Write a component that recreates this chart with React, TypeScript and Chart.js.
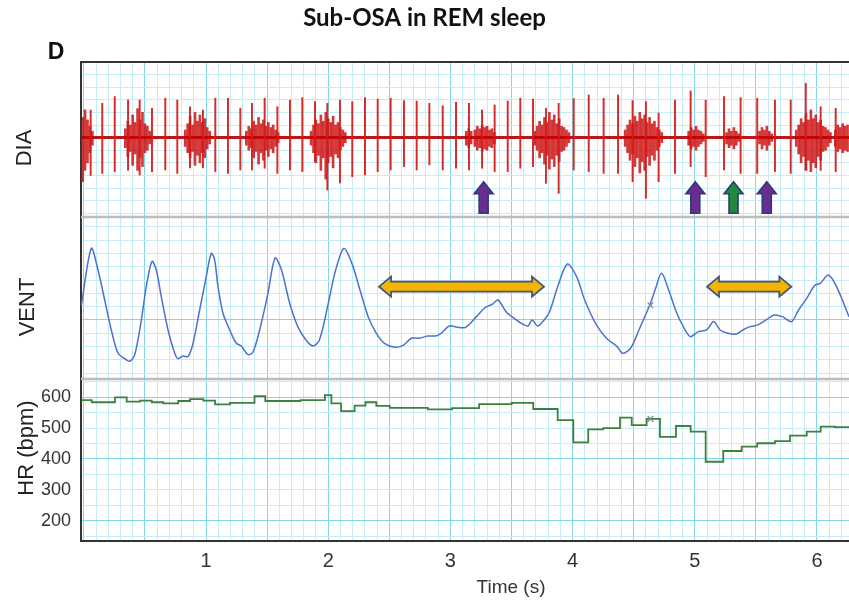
import React, { useEffect, useRef } from 'react';
import { Chart, registerables } from 'chart.js';

Chart.register(...registerables);

// ---------------- data ----------------
const timeTickLabels = [1, 2, 3, 4, 5, 6];
const hrTickLabels = [200, 300, 400, 500, 600];

// Heart rate (stepped), each value holds from its time to the next time
const hrStepTimes = [-0.02, 0.065, 0.255, 0.351, 0.46, 0.556, 0.65, 0.773, 0.869, 0.978,
  1.074, 1.196, 1.397, 1.485, 1.773, 1.973, 2.026, 2.105, 2.216, 2.305,
  2.394, 2.504, 2.815, 3.014, 3.235, 3.501, 3.678, 3.878, 4.006, 4.128,
  4.251, 4.388, 4.484, 4.606, 4.715, 4.846, 4.966, 5.089, 5.233, 5.384,
  5.511, 5.656, 5.779, 5.916, 6.03, 6.147, 6.262];
const hrValues = [591, 584, 600, 586, 589, 584, 580, 588, 594, 589,
  577, 582, 604, 588, 591, 607, 580, 555, 573, 584,
  572, 566, 561, 565, 578, 582, 562, 526, 454, 496,
  500, 534, 510, 530, 472, 507, 489, 391, 426, 440,
  451, 458, 476, 489, 505, 503, 503];

// Ventilation trace (arbitrary units)
const ventTimes = [-0.02, 0.061, 0.116, 0.171, 0.225, 0.28, 0.335, 0.376, 0.417, 0.471,
  0.511, 0.558, 0.593, 0.634, 0.689, 0.744, 0.771, 0.812, 0.853, 0.894,
  0.948, 1.002, 1.043, 1.071, 1.098, 1.139, 1.194, 1.248, 1.289, 1.344,
  1.385, 1.439, 1.507, 1.565, 1.618, 1.685, 1.751, 1.818, 1.876, 1.928,
  1.995, 2.061, 2.128, 2.194, 2.26, 2.327, 2.394, 2.46, 2.547, 2.612,
  2.682, 2.748, 2.814, 2.881, 2.923, 2.992, 3.058, 3.124, 3.213, 3.28,
  3.346, 3.39, 3.457, 3.523, 3.59, 3.634, 3.669, 3.714, 3.767, 3.811,
  3.878, 3.957, 4.033, 4.099, 4.188, 4.277, 4.365, 4.409, 4.476, 4.543,
  4.631, 4.675, 4.728, 4.786, 4.853, 4.906, 4.963, 5.029, 5.097, 5.154,
  5.207, 5.273, 5.34, 5.393, 5.451, 5.517, 5.583, 5.65, 5.716, 5.792,
  5.849, 5.916, 5.982, 6.027, 6.093, 6.16, 6.262];
const ventValues = [1.1, 5.37, 3.75, 1.5, -0.75, -2.5, -2.9, -3.1, -2.6, 0,
  2.5, 4.4, 3.75, 1.75, -0.75, -2.5, -2.9, -2.7, -2.75, -1.75,
  0.75, 3.25, 5.0, 4.5, 2.5, 0.5, -0.75, -1.75, -1.95, -2.6,
  -2.4, -0.75, 2.0, 4.65, 3.75, 1.25, -0.5, -1.5, -1.95, -1.5,
  1.0, 3.75, 5.37, 4.25, 2.25, 0.25, -1.0, -1.75, -2.05, -1.9,
  -1.37, -1.37, -1.2, -1.2, -1.0, -0.45, -0.55, -0.55, 0.25, 0.9,
  1.2, 1.5, 0.6, 0.12, -0.3, -0.45, 0, -0.45, 0, 0.6,
  2.5, 4.2, 3.25, 1.5, -0.25, -1.37, -2.0, -2.5, -2.1, -0.75,
  1.1, 2.25, 3.5, 2.25, 0.5, -0.5, -1.25, -0.87, -0.75, -0.12,
  -0.75, -1.0, -1.05, -0.75, -0.5, -0.37, 0, 0.37, 0.25, -0.12,
  0.75, 1.62, 2.6, 2.75, 3.37, 2.5, 0.25];

// Diaphragm EMG: cardiac spikes
const spikeTimes = [0.056, 0.151, 0.253, 0.362, 0.457, 0.558, 0.667, 0.765, 0.869, 0.975,
  1.076, 1.18, 1.281, 1.376, 1.48, 1.584, 1.687, 1.788, 1.892, 1.993,
  2.096, 2.197, 2.301, 2.405, 2.511, 2.62, 2.724, 2.828, 2.937, 3.046,
  3.152, 3.259, 3.362, 3.469, 3.572, 3.676, 3.782, 3.886, 4.009, 4.132,
  4.254, 4.372, 4.491, 4.6, 4.704, 4.838, 4.966, 5.089, 5.239, 5.375,
  5.511, 5.656, 5.785, 5.908, 6.03, 6.153];
const spikeTops = [2.19, 2.72, 3.25, 2.98, 2.98, 2.32, 3.12, 2.98, 2.45, 2.19,
  3.12, 3.12, 2.32, 2.72, 3.12, 2.45, 2.98, 3.17, 2.85, 2.72,
  2.98, 2.85, 3.17, 3.05, 3.12, 2.93, 2.9, 2.72, 2.53, 2.8,
  2.72, 2.19, 2.59, 2.9, 3.12, 3.06, 2.32, 2.72, 3.1, 3.38,
  3.12, 3.38, 2.93, 2.85, 1.95, 2.98, 3.7, 2.98, 3.25, 3.17,
  3.12, 2.98, 2.98, 4.31, 2.45, 2.32];
const spikeBottoms = [-3.0, -2.84, -2.7, -2.6, -2.97, -2.7, -2.57, -2.84, -2.4, -2.4,
  -2.7, -2.84, -2.57, -2.57, -2.43, -2.84, -2.57, -2.7, -1.9, -4.16,
  -3.6, -3.1, -2.97, -2.7, -2.57, -2.3, -2.57, -2.17, -2.57, -2.43,
  -2.57, -2.43, -2.7, -2.7, -2.43, -2.3, -3.63, -4.42, -2.57, -2.7,
  -2.84, -2.84, -3.5, -4.82, -3.5, -2.84, -2.3, -3.1, -2.57, -2.84,
  -2.84, -2.7, -2.84, -2.57, -2.6, -2.7];

// Diaphragm EMG: burst envelope bins (time, high, low)
const burstTimes = [
  -0.01, 0.01, 0.03, 0.05, 0.07,
  0.34, 0.36, 0.38, 0.40, 0.42, 0.44, 0.46, 0.48, 0.50, 0.52, 0.54,
  0.83, 0.85, 0.87, 0.89, 0.91, 0.93, 0.95, 0.97, 0.99, 1.01, 1.03,
  1.33, 1.35, 1.37, 1.39, 1.41, 1.43, 1.45, 1.47, 1.49, 1.51, 1.53, 1.55, 1.57, 1.59,
  1.86, 1.88, 1.90, 1.92, 1.94, 1.96, 1.98, 2.00, 2.02, 2.04, 2.06, 2.08, 2.10, 2.12, 2.14,
  3.13, 3.15, 3.17,
  3.20, 3.22, 3.24, 3.26, 3.28, 3.30, 3.32, 3.34, 3.36,
  3.69, 3.71, 3.73, 3.75, 3.77, 3.79, 3.81, 3.83, 3.85, 3.87, 3.89, 3.91, 3.93, 3.95, 3.97,
  4.43, 4.45, 4.47, 4.49, 4.51, 4.53, 4.55, 4.57, 4.59, 4.61, 4.63, 4.65, 4.67, 4.69, 4.71, 4.73,
  4.95, 4.97, 4.99, 5.01, 5.03, 5.05, 5.07,
  5.26, 5.28, 5.30, 5.32, 5.34, 5.36,
  5.53, 5.55, 5.57, 5.59, 5.61, 5.63,
  5.83, 5.85, 5.87, 5.89, 5.91, 5.93, 5.95, 5.97, 5.99, 6.01, 6.03, 6.05, 6.07, 6.09, 6.11,
  6.15, 6.17, 6.19, 6.21, 6.23, 6.25];
const burstHigh = [
  1.6, 2.2, 1.4, 0.9, 0.5,
  0.7, 1.3, 1.0, 1.8, 1.2, 2.3, 1.4, 2.0, 1.1, 0.9, 0.5,
  0.6, 1.1, 1.7, 1.0, 2.0, 1.3, 1.8, 1.2, 1.5, 0.8, 0.5,
  0.5, 0.9, 0.7, 1.3, 1.0, 1.6, 1.1, 1.4, 0.9, 1.2, 0.8, 1.0, 0.6, 0.4,
  0.5, 1.0, 1.4, 1.1, 1.8, 1.3, 2.0, 1.5, 1.2, 1.7, 1.0, 1.2, 0.8, 0.6, 0.4,
  0.5, 0.7, 0.5,
  0.6, 0.9, 0.7, 1.0, 0.8, 0.9, 0.6, 0.7, 0.4,
  0.5, 0.9, 1.3, 1.0, 1.6, 1.2, 2.0, 1.4, 1.8, 1.1, 1.5, 0.9, 0.8, 0.6, 0.4,
  0.6, 1.0, 1.4, 1.1, 1.7, 1.3, 2.0, 1.5, 1.8, 1.2, 1.6, 1.1, 1.3, 0.8, 0.6, 0.4,
  0.5, 0.8, 0.6, 0.9, 0.6, 0.5, 0.3,
  0.4, 0.7, 0.5, 0.8, 0.5, 0.3,
  0.5, 0.8, 0.6, 0.9, 0.5, 0.3,
  0.6, 1.0, 1.5, 1.2, 1.9, 1.4, 2.2, 1.5, 1.8, 1.2, 1.4, 0.9, 0.8, 0.6, 0.4,
  0.6, 1.0, 0.8, 1.1, 0.9, 1.0];
const burstLow = [
  -3.5, -2.6, -2.0, -1.2, -0.6,
  -0.8, -1.5, -1.1, -2.2, -1.3, -2.6, -1.6, -2.3, -1.2, -1.0, -0.5,
  -0.7, -1.2, -1.6, -1.1, -2.2, -1.4, -2.0, -1.2, -1.6, -0.9, -0.5,
  -0.6, -1.0, -0.8, -1.6, -1.1, -2.1, -1.2, -1.8, -1.0, -1.5, -0.9, -1.2, -0.7, -0.4,
  -0.6, -1.2, -2.0, -1.4, -2.6, -1.6, -3.3, -2.0, -1.5, -2.4, -1.3, -1.6, -1.0, -0.7, -0.4,
  -0.6, -0.8, -0.5,
  -0.7, -1.0, -0.8, -1.1, -0.9, -1.0, -0.7, -0.8, -0.5,
  -0.6, -1.0, -1.6, -1.2, -2.1, -1.4, -2.5, -1.7, -2.3, -1.4, -1.9, -1.1, -1.0, -0.7, -0.4,
  -0.7, -1.2, -1.8, -1.3, -2.3, -1.6, -2.8, -1.9, -2.6, -1.5, -2.2, -1.4, -1.8, -1.0, -0.7, -0.4,
  -0.6, -0.9, -0.7, -1.0, -0.7, -0.5, -0.3,
  -0.5, -0.8, -0.6, -0.9, -0.6, -0.3,
  -0.5, -0.9, -0.6, -1.0, -0.6, -0.3,
  -0.7, -1.3, -2.0, -1.5, -2.6, -1.8, -2.7, -2.0, -2.4, -1.5, -1.8, -1.1, -1.0, -0.7, -0.4,
  -0.7, -1.1, -0.9, -1.2, -1.0, -1.1];

const diaBaselineTimes = [-0.023, 6.262];
const diaBaselineValues = [0, 0];

// Markers (×) on VENT and HR
const markerTime = [4.637];
const ventMarkerValue = [1.1];
const hrMarkerValue = [530];

// Annotation arrows
const ventArrowStarts = [2.416, 5.1];
const ventArrowEnds = [3.766, 5.79];
const ventArrowLevels = [2.5, 2.5];
const diaArrowTimes = [3.272, 5.004, 5.317, 5.589];
const diaArrowKinds = ['purple', 'purple', 'green', 'purple'];
const diaArrowTip = -3.5;
const diaArrowBase = -6.0;

// ---------------- styling ----------------
const SANS = '"Liberation Sans", Arial, sans-serif';
const GRID_MINOR = '#c6ecf5';
const GRID_MAJOR = '#84d5e7';
const FRAME = '#333333';
const SEPARATOR = '#bdbdbd';

const X_MIN = -0.023;
const X_MAX = 6.262;

const range = (a: number, b: number, step: number) => {
  const out: number[] = [];
  const n = Math.round((b - a) / step);
  for (let i = 0; i <= n; i++) out.push(Math.round((a + i * step) * 1000) / 1000);
  return out;
};

const drawDoubleArrow = (ctx: CanvasRenderingContext2D, x1: number, x2: number, y: number) => {
  const hl = 12, hh = 10, sh = 5;
  ctx.beginPath();
  ctx.moveTo(x1, y);
  ctx.lineTo(x1 + hl, y - hh);
  ctx.lineTo(x1 + hl, y - sh);
  ctx.lineTo(x2 - hl, y - sh);
  ctx.lineTo(x2 - hl, y - hh);
  ctx.lineTo(x2, y);
  ctx.lineTo(x2 - hl, y + hh);
  ctx.lineTo(x2 - hl, y + sh);
  ctx.lineTo(x1 + hl, y + sh);
  ctx.lineTo(x1 + hl, y + hh);
  ctx.closePath();
  ctx.fillStyle = '#f4b400';
  ctx.fill();
  ctx.lineWidth = 1.8;
  ctx.strokeStyle = '#44557a';
  ctx.stroke();
};

const drawUpArrow = (ctx: CanvasRenderingContext2D, x: number, yTip: number, yBase: number, fill: string) => {
  const hw = 9.5, sw = 4.5, hh = 12;
  ctx.beginPath();
  ctx.moveTo(x, yTip);
  ctx.lineTo(x + hw, yTip + hh);
  ctx.lineTo(x + sw, yTip + hh);
  ctx.lineTo(x + sw, yBase);
  ctx.lineTo(x - sw, yBase);
  ctx.lineTo(x - sw, yTip + hh);
  ctx.lineTo(x - hw, yTip + hh);
  ctx.closePath();
  ctx.fillStyle = fill;
  ctx.fill();
  ctx.lineWidth = 1.6;
  ctx.strokeStyle = '#2c3b7c';
  ctx.stroke();
};

const overlayPlugin = {
  id: 'overlay',
  beforeDatasetsDraw(chart: any) {
    const { ctx, chartArea, scales } = chart;
    ctx.save();
    ctx.strokeStyle = SEPARATOR;
    ctx.lineWidth = 2.5;
    for (const id of ['yDIA', 'yVENT']) {
      const y = scales[id].bottom;
      ctx.beginPath();
      ctx.moveTo(chartArea.left, y);
      ctx.lineTo(chartArea.right, y);
      ctx.stroke();
    }
    ctx.strokeStyle = FRAME;
    ctx.lineWidth = 2;
    ctx.beginPath();
    ctx.moveTo(chartArea.left - 1, chartArea.top);
    ctx.lineTo(chartArea.right, chartArea.top);
    ctx.stroke();
    ctx.restore();
  },
  afterDatasetsDraw(chart: any) {
    const { ctx, scales } = chart;
    const xs = scales.x, yV = scales.yVENT, yD = scales.yDIA;
    ctx.save();
    for (let i = 0; i < ventArrowStarts.length; i++) {
      drawDoubleArrow(ctx, xs.getPixelForValue(ventArrowStarts[i]), xs.getPixelForValue(ventArrowEnds[i]),
        yV.getPixelForValue(ventArrowLevels[i]));
    }
    for (let i = 0; i < diaArrowTimes.length; i++) {
      drawUpArrow(ctx, xs.getPixelForValue(diaArrowTimes[i]), yD.getPixelForValue(diaArrowTip),
        yD.getPixelForValue(diaArrowBase), diaArrowKinds[i] === 'green' ? '#1d8a3c' : '#6a2c90');
    }
    ctx.restore();
  },
  afterDraw(chart: any) {
    const { ctx } = chart;
    ctx.save();
    ctx.fillStyle = '#111';
    ctx.textAlign = 'center';
    ctx.textBaseline = 'middle';
    ctx.font = 'bold 23px ' + SANS;
    ctx.fillText('D', 56, 53);
    ctx.fillStyle = '#222';
    ctx.font = '22px ' + SANS;
    const labels: [string, number, number][] = [['DIA', 25, 148], ['VENT', 28, 307], ['HR (bpm)', 27, 448]];
    for (const [t, x, y] of labels) {
      ctx.save();
      ctx.translate(x, y);
      ctx.rotate(-Math.PI / 2);
      ctx.fillText(t, 0, 0);
      ctx.restore();
    }
    ctx.fillStyle = '#333';
    ctx.font = '19px ' + SANS;
    ctx.fillText('Time (s)', 511, 588);
    ctx.restore();
  },
};

export default function App() {
  const ref = useRef<HTMLCanvasElement | null>(null);

  useEffect(() => {
    if (!ref.current) return;
    const xy = (xs: number[], ys: number[]) => xs.map((x, i) => ({ x, y: ys[i] }));
    const chart = new Chart(ref.current, {
      type: 'line',
      data: {
        datasets: [
          {
            label: 'VENT marker', yAxisID: 'yVENT', data: xy(markerTime, ventMarkerValue) as any,
            showLine: false, pointStyle: 'crossRot', pointRadius: 4, pointHoverRadius: 4, pointBorderColor: '#8a8a8a',
            pointBorderWidth: 1.3, pointBackgroundColor: 'transparent',
          },
          {
            label: 'HR marker', yAxisID: 'yHR', data: xy(markerTime, hrMarkerValue) as any,
            showLine: false, pointStyle: 'crossRot', pointRadius: 4, pointHoverRadius: 4, pointBorderColor: '#8a8a8a',
            pointBorderWidth: 1.3, pointBackgroundColor: 'transparent',
          },
          {
            label: 'HR', yAxisID: 'yHR', data: xy(hrStepTimes, hrValues) as any, stepped: true,
            borderColor: '#3f7f3f', borderWidth: 1.8, pointRadius: 0, pointHoverRadius: 0,
          },
          {
            label: 'VENT', yAxisID: 'yVENT', data: xy(ventTimes, ventValues) as any, tension: 0.3,
            borderColor: '#4d72cd', borderWidth: 1.5, pointRadius: 0, pointHoverRadius: 0,
          },
          {
            type: 'bar', label: 'DIA spikes', yAxisID: 'yDIA',
            data: spikeTimes.map((t, i) => ({ x: t, y: [spikeBottoms[i], spikeTops[i]] })) as any,
            backgroundColor: 'rgba(214,24,24,0.92)', barThickness: 1.3, grouped: false, borderWidth: 0,
          } as any,
          {
            type: 'bar', label: 'DIA bursts', yAxisID: 'yDIA',
            data: burstTimes.map((t, i) => ({ x: t, y: [burstLow[i], burstHigh[i]] })) as any,
            backgroundColor: 'rgba(200,0,0,0.78)', barThickness: 2, grouped: false, borderWidth: 0,
          } as any,
          {
            label: 'DIA baseline', yAxisID: 'yDIA', data: xy(diaBaselineTimes, diaBaselineValues) as any,
            borderColor: 'rgba(180,0,0,0.9)', borderWidth: 3, pointRadius: 0, pointHoverRadius: 0,
          },
        ],
      },
      options: {
        responsive: false,
        animation: false,
        devicePixelRatio: 1,
        layout: { padding: 0, autoPadding: false },
        plugins: {
          legend: { display: false },
          tooltip: { enabled: false },
          title: {
            display: true,
            text: 'Sub-OSA in REM sleep',
            color: '#111',
            font: { family: 'Lato', size: 24, weight: 'bold', lineHeight: 1.2 },
            padding: { top: 4, bottom: 29.2 },
          },
        },
        scales: {
          x: {
            type: 'linear',
            min: X_MIN,
            max: X_MAX,
            offset: false,
            afterBuildTicks: (s: any) => { s.ticks = range(0, 6.2, 0.1).map((v) => ({ value: v })); },
            afterFit: (s: any) => { s.height = 63; s.paddingLeft = 0; s.paddingRight = 0; },
            ticks: {
              autoSkip: false, maxRotation: 0, minRotation: 0, padding: 8, color: '#333',
              font: { family: 'Liberation Sans', size: 20 },
              callback: (v: any) => (timeTickLabels.includes(Number(v)) ? String(v) : ''),
            },
            grid: {
              offset: false, drawTicks: false, lineWidth: 1,
              color: (c: any) => {
                const v = c.tick ? c.tick.value : 0;
                return Math.abs(v * 2 - Math.round(v * 2)) < 1e-6 ? GRID_MAJOR : GRID_MINOR;
              },
            },
            border: { display: true, color: FRAME, width: 2 },
          },
          yHR: {
            type: 'linear', position: 'left', stack: 'panels', stackWeight: 162,
            min: 134.2, max: 659.3,
            afterBuildTicks: (s: any) => { s.ticks = range(150, 650, 50).map((v) => ({ value: v })); },
            afterFit: (s: any) => { s.width = 81; },
            ticks: {
              autoSkip: false, padding: 10, color: '#333',
              font: { family: 'Liberation Sans', size: 18 },
              callback: (v: any) => (hrTickLabels.includes(Number(v)) ? String(v) : ''),
            },
            grid: {
              drawTicks: false, lineWidth: 1,
              color: (c: any) => (c.tick && [200, 400, 600].includes(c.tick.value) ? GRID_MAJOR : GRID_MINOR),
            },
            border: { display: true, color: FRAME, width: 2 },
          },
          yVENT: {
            type: 'linear', position: 'left', stack: 'panels', stackWeight: 162,
            min: -4.43, max: 7.73,
            afterBuildTicks: (s: any) => { s.ticks = range(-4, 7, 1).map((v) => ({ value: v })); },
            afterFit: (s: any) => { s.width = 81; },
            ticks: { display: false },
            grid: {
              drawTicks: false, lineWidth: 1,
              color: (c: any) => (c.tick && c.tick.value === 0 ? GRID_MAJOR : GRID_MINOR),
            },
            border: { display: true, color: FRAME, width: 2 },
          },
          yDIA: {
            type: 'linear', position: 'left', stack: 'panels', stackWeight: 155,
            min: -6.3, max: 6.0,
            afterBuildTicks: (s: any) => { s.ticks = range(-6, 6, 1).map((v) => ({ value: v })); },
            afterFit: (s: any) => { s.width = 81; },
            ticks: { display: false },
            grid: { drawTicks: false, lineWidth: 1, color: GRID_MINOR },
            border: { display: true, color: FRAME, width: 2 },
          },
        },
      } as any,
      plugins: [overlayPlugin],
    });
    return () => chart.destroy();
  }, []);

  return (
    <div style={{ position: 'absolute', left: 0, top: 0, width: 849, height: 604, background: '#fff' }}>
      <canvas ref={ref} width={849} height={604} />
    </div>
  );
}
